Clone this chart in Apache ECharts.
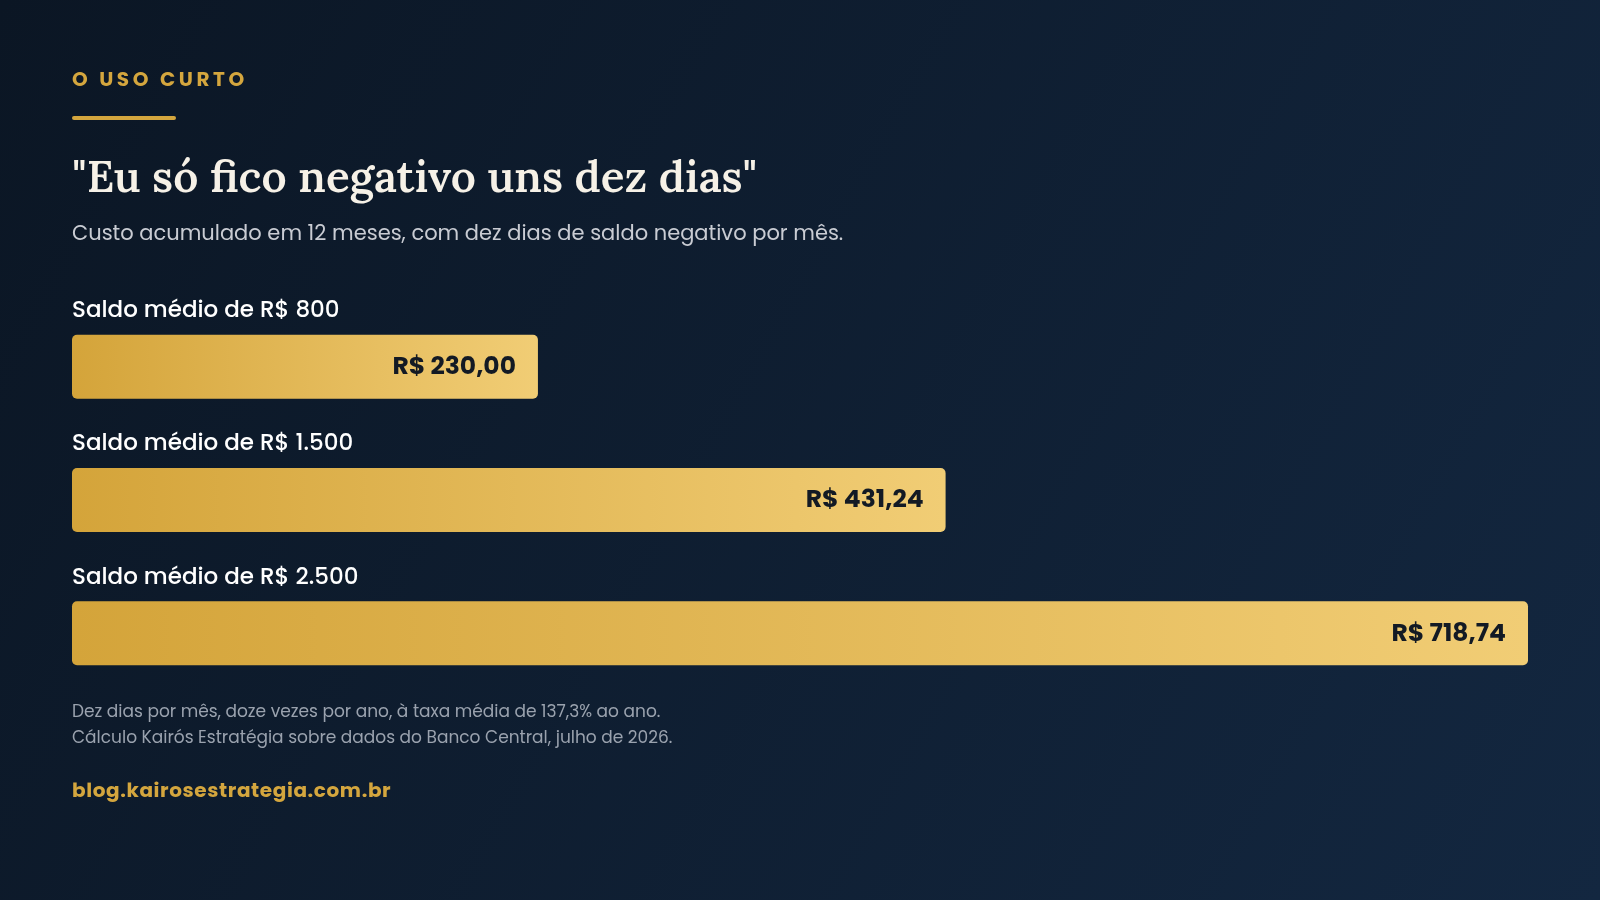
<!DOCTYPE html>
<html>
<head>
<meta charset="utf-8">
<script src="https://cdn.jsdelivr.net/npm/echarts@6/dist/echarts.min.js"></script>
<style>
html,body{margin:0;padding:0;width:1600px;height:900px;overflow:hidden;background:#0d1a2b;}
#c{width:1600px;height:900px;}
</style>
</head>
<body>
<div id="c"></div>
<script>
const categories = ['Saldo médio de R$ 800', 'Saldo médio de R$ 1.500', 'Saldo médio de R$ 2.500'];
const values = [230.00, 431.24, 718.74];
const valueLabels = ['R$ 230,00', 'R$ 431,24', 'R$ 718,74'];

const kicker = 'O USO CURTO';
const title = '"Eu só fico negativo uns dez dias"';
const subtitle = 'Custo acumulado em 12 meses, com dez dias de saldo negativo por mês.';
const note1 = 'Dez dias por mês, doze vezes por ano, à taxa média de 137,3% ao ano.';
const note2 = 'Cálculo Kairós Estratégia sobre dados do Banco Central, julho de 2026.';
const site = 'blog.kairosestrategia.com.br';

const SANS = "Poppins, 'Open Sans', 'Noto Sans', sans-serif";
const SERIF = "Lora, 'DejaVu Serif', serif";

const mctx = document.createElement('canvas').getContext('2d');
function spacedText(str, x, y, font, fill, spacing) {
  mctx.font = font;
  const children = [];
  let cx = 0;
  for (const ch of str) {
    children.push({type: 'text', x: cx, y: 0, style: {text: ch, font: font, fill: fill, textVerticalAlign: 'top'}});
    cx += mctx.measureText(ch).width + spacing;
  }
  return {type: 'group', left: x, top: y, children: children};
}

const chart = echarts.init(document.getElementById('c'), null, {renderer: 'canvas'});
const gold = new echarts.graphic.LinearGradient(0, 0, 1, 0, [
  {offset: 0, color: '#d4a43a'},
  {offset: 1, color: '#f1cd75'}
]);

chart.setOption({
  backgroundColor: new echarts.graphic.LinearGradient(0, 0, 1, 1, [
    {offset: 0, color: '#0b1624'},
    {offset: 1, color: '#132740'}
  ]),
  animation: false,
  grid: {left: 72, right: 72, top: 300, height: 400, containLabel: false},
  xAxis: {
    type: 'value', min: 0, max: 718.74,
    show: false
  },
  yAxis: {
    type: 'category', data: categories, inverse: true,
    axisLine: {show: false}, axisTick: {show: false}, splitLine: {show: false},
    axisLabel: {
      inside: true, margin: 0,
      verticalAlign: 'bottom', align: 'left',
      padding: [0, 0, 44, 0],
      color: '#ffffff', fontFamily: SANS, fontSize: 23, fontWeight: 500
    }
  },
  series: [{
    type: 'bar',
    data: values,
    barWidth: 64,
    itemStyle: {color: gold, borderRadius: 5},
    label: {
      show: true, position: 'insideRight', distance: 22, offset: [0, 1],
      formatter: p => valueLabels[p.dataIndex],
      color: '#131a24', fontFamily: SANS, fontSize: 25, fontWeight: 'bold'
    }
  }],
  graphic: [
    spacedText(kicker, 72, 71, "bold 20px " + SANS, '#d4a63e', 3.6),
    {type: 'rect', left: 72, top: 116, shape: {width: 104, height: 4, r: 2}, style: {fill: '#d4a63e'}},
    {type: 'text', left: 72, top: 157, style: {text: title, fill: '#f6f1e7', font: "600 44px " + SERIF}},
    {type: 'text', left: 72, top: 224, style: {text: subtitle, fill: '#c9ccd3', font: "21px " + SANS}},
    {type: 'text', left: 72, top: 704, style: {text: note1, fill: '#9aa2ae', font: "17px " + SANS}},
    {type: 'text', left: 72, top: 730, style: {text: note2, fill: '#9aa2ae', font: "17px " + SANS}},
    spacedText(site, 72, 782, "bold 20px " + SANS, '#d4a63e', 0.6)
  ]
});
</script>
</body>
</html>
